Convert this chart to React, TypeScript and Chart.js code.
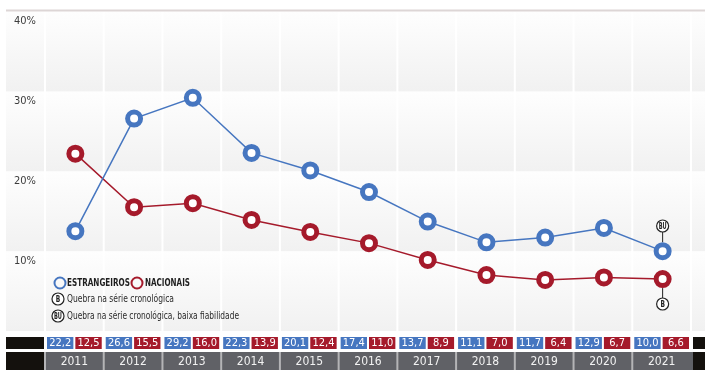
import React, { useEffect, useRef } from "react";
import { Chart, registerables } from "chart.js";
Chart.register(...registerables);

// ---------- data ----------
const years = ["2011", "2012", "2013", "2014", "2015", "2016", "2017", "2018", "2019", "2020", "2021"];
// values printed in the table
const estrangeiros = [22.2, 26.6, 29.2, 22.3, 20.1, 17.4, 13.7, 11.1, 11.7, 12.9, 10.0];
const nacionais = [12.5, 15.5, 16.0, 13.9, 12.4, 11.0, 8.9, 7.0, 6.4, 6.7, 6.6];
// values as plotted in the reference (2011 points are swapped there)
const estrangeirosPlotted = [12.5, 26.6, 29.2, 22.3, 20.1, 17.4, 13.7, 11.1, 11.7, 12.9, 10.0];
const nacionaisPlotted = [22.2, 15.5, 16.0, 13.9, 12.4, 11.0, 8.9, 7.0, 6.4, 6.7, 6.5];
const yTicks = [10, 20, 30, 40];
const tickLabels = ["10%", "20%", "30%", "40%"];
const legendSeries = ["ESTRANGEIROS", "NACIONAIS"];
const notes = ["Quebra na série cronológica", "Quebra na série cronológica, baixa fiabilidade"];
const noteIcons = ["B", "BU"];

// ---------- styles ----------
const BLUE = "#4676c0";
const RED = "#a51a2b";
const GREY = "#606166";
const BLACK = "#14110d";
const FONT = '"DejaVu Sans Condensed", "Liberation Sans Narrow", Roboto, sans-serif';
const W = 705;
const H = 370;

const fmt = (v: number) => v.toFixed(1).replace(".", ",");

function text(ctx: CanvasRenderingContext2D, s: string, x: number, y: number, font: string, color: string, align: CanvasTextAlign = "left", width?: number) {
  ctx.save();
  ctx.font = font;
  ctx.fillStyle = color;
  ctx.textBaseline = "middle";
  ctx.textAlign = align;
  if (width) {
    const m = ctx.measureText(s).width;
    const k = width / m;
    ctx.translate(x, y);
    ctx.scale(k, 1);
    ctx.fillText(s, 0, 0);
  } else {
    ctx.fillText(s, x, y);
  }
  ctx.restore();
}

function icon(ctx: CanvasRenderingContext2D, label: string, x: number, y: number) {
  ctx.save();
  ctx.beginPath();
  ctx.arc(x, y, 6, 0, Math.PI * 2);
  ctx.fillStyle = "#ffffff";
  ctx.fill();
  ctx.lineWidth = 1.2;
  ctx.strokeStyle = "#222";
  ctx.stroke();
  ctx.restore();
  text(ctx, label, x, y + 0.5, `bold 8px ${FONT}`, "#222", "center", label.length > 1 ? 8 : 4.5);
}

const bgPlugin = {
  id: "bgPlugin",
  beforeDraw(chart: any) {
    const { ctx, chartArea, scales } = chart;
    const x = scales.x;
    const y = scales.y;
    const n = years.length;
    const w = (chartArea.right - chartArea.left) / n;
    ctx.save();
    ctx.fillStyle = "#ffffff";
    ctx.fillRect(0, 0, W, H);
    const cols: [number, number][] = [[6, chartArea.left - 2]];
    for (let i = 0; i < n; i++) {
      const c = x.getPixelForValue(i);
      cols.push([c - w / 2, c + w / 2 - 2]);
    }
    cols.push([chartArea.right, W]);
    const bounds = [0, ...yTicks].map((v) => y.getPixelForValue(v));
    for (let b = 0; b < bounds.length - 1; b++) {
      const bottom = bounds[b];
      const top = bounds[b + 1];
      const g = ctx.createLinearGradient(0, top, 0, bottom);
      g.addColorStop(0, "#fefefe");
      g.addColorStop(1, "#f1f1f1");
      ctx.fillStyle = g;
      for (const [a, e] of cols) ctx.fillRect(a, top, e - a, bottom - top);
    }
    ctx.fillStyle = "#ddd6d6";
    ctx.fillRect(6, chartArea.top - 2, W - 6, 2);
    yTicks.forEach((v, i) => {
      text(ctx, tickLabels[i], 14, y.getPixelForValue(v) + 10, `11px ${FONT}`, "#3c3c3c", "left", 22);
    });
    // legend
    const ly = 283;
    ctx.lineWidth = 2;
    ctx.strokeStyle = BLUE;
    ctx.beginPath();
    ctx.arc(60, ly, 5.5, 0, Math.PI * 2);
    ctx.stroke();
    text(ctx, legendSeries[0], 67, ly + 0.5, `bold 10px ${FONT}`, "#1e1e1e", "left", 63);
    ctx.strokeStyle = RED;
    ctx.beginPath();
    ctx.arc(137, ly, 5.5, 0, Math.PI * 2);
    ctx.stroke();
    text(ctx, legendSeries[1], 145, ly + 0.5, `bold 10px ${FONT}`, "#1e1e1e", "left", 45);
    icon(ctx, noteIcons[0], 58, 299);
    text(ctx, notes[0], 67, 299, `10px ${FONT}`, "#2a2a2a", "left", 107);
    icon(ctx, noteIcons[1], 58, 316);
    text(ctx, notes[1], 67, 316, `10px ${FONT}`, "#2a2a2a", "left", 172);
    ctx.restore();
  },
  afterDatasetsDraw(chart: any) {
    const { ctx, scales } = chart;
    const x = scales.x;
    const y = scales.y;
    const i = years.length - 1;
    const cx = x.getPixelForValue(i);
    const by = y.getPixelForValue(estrangeirosPlotted[i]);
    const ry = y.getPixelForValue(nacionaisPlotted[i]);
    ctx.save();
    ctx.strokeStyle = "#222";
    ctx.lineWidth = 1;
    ctx.beginPath();
    ctx.moveTo(cx, 226 + 6);
    ctx.lineTo(cx, by - 9);
    ctx.moveTo(cx, ry + 9);
    ctx.lineTo(cx, 304 - 6);
    ctx.stroke();
    ctx.restore();
    icon(ctx, noteIcons[1], cx, 226);
    icon(ctx, noteIcons[0], cx, 304);
  },
  afterDraw(chart: any) {
    const { ctx, chartArea, scales } = chart;
    const x = scales.x;
    const n = years.length;
    const w = (chartArea.right - chartArea.left) / n;
    const r1 = 337, r1h = 12;
    const r2 = 352, r2h = 18;
    ctx.save();
    ctx.fillStyle = BLACK;
    ctx.fillRect(6, r1, chartArea.left - 2 - 6, r1h);
    ctx.fillRect(6, r2, chartArea.left - 2 - 6, r2h);
    ctx.fillRect(chartArea.right + 1, r1, W - chartArea.right, r1h);
    ctx.fillRect(chartArea.right + 1, r2, W - chartArea.right, r2h);
    ctx.fillStyle = GREY;
    ctx.fillRect(chartArea.left - 2, r2, chartArea.right - chartArea.left + 3, r2h);
    ctx.fillStyle = "#b4b4b6";
    ctx.fillRect(chartArea.left - 2, r2, 2, r2h);
    for (let i = 0; i < n; i++) {
      const c = x.getPixelForValue(i);
      const x0 = c - w / 2;
      const x1 = c + w / 2;
      ctx.fillStyle = BLUE;
      ctx.fillRect(x0 + 1, r1, c - 2 - (x0 + 1), r1h);
      ctx.fillStyle = RED;
      ctx.fillRect(c, r1, x1 - 3 - c, r1h);
      text(ctx, fmt(estrangeiros[i]), (x0 + 1 + c - 2) / 2, r1 + r1h / 2 + 0.5, `11px ${FONT}`, "#fff", "center");
      text(ctx, fmt(nacionais[i]), (c + x1 - 3) / 2, r1 + r1h / 2 + 0.5, `11px ${FONT}`, "#fff", "center");
      if (i < n - 1) {
        ctx.fillStyle = "#b4b4b6";
        ctx.fillRect(x1 - 2, r2, 2, r2h);
      }
      text(ctx, years[i], c - 1, r2 + r2h / 2 + 1, `12px ${FONT}`, "#f2f2f2", "center");
    }
    ctx.restore();
  },
};

export default function App() {
  const ref = useRef<HTMLCanvasElement>(null);
  useEffect(() => {
    if (!ref.current) return;
    const chart = new Chart(ref.current, {
      type: "line",
      data: {
        labels: years,
        datasets: [
          {
            label: "ESTRANGEIROS",
            data: estrangeirosPlotted,
            borderColor: BLUE,
            borderWidth: 1.5,
            pointRadius: 6.5,
            pointBorderWidth: 5,
            pointBackgroundColor: "#ffffff",
            pointBorderColor: BLUE,
            tension: 0,
          },
          {
            label: "NACIONAIS",
            data: nacionaisPlotted,
            borderColor: RED,
            borderWidth: 1.5,
            pointRadius: 6.5,
            pointBorderWidth: 5,
            pointBackgroundColor: "#ffffff",
            pointBorderColor: RED,
            tension: 0,
          },
        ],
      },
      options: {
        responsive: false,
        animation: false,
        clip: false as any,
        layout: { padding: { left: 46, right: 13, top: 8, bottom: 39 } },
        plugins: { legend: { display: false }, tooltip: { enabled: false } },
        scales: {
          x: { display: false, offset: true },
          y: { display: false, min: 0, max: 40 },
        },
      },
      plugins: [bgPlugin],
    });
    return () => chart.destroy();
  }, []);
  return (
    <div style={{ position: "fixed", left: 0, top: 0, width: W, height: H, background: "#fff" }}>
      <canvas ref={ref} width={W} height={H} style={{ display: "block", width: W, height: H }} />
    </div>
  );
}
